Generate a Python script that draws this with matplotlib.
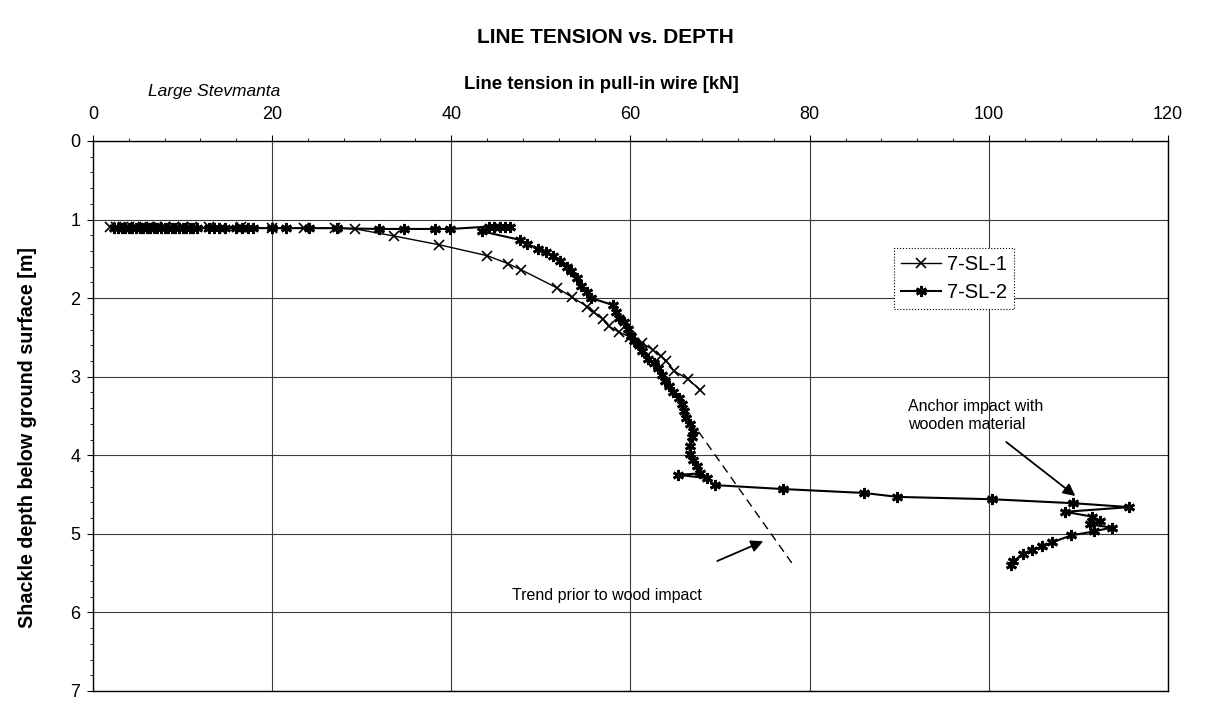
import matplotlib
matplotlib.use('Agg')
import matplotlib.pyplot as plt
from matplotlib.ticker import MultipleLocator

# ---------------- data ----------------
x_ticks = [0, 20, 40, 60, 80, 100, 120]
y_ticks = [0, 1, 2, 3, 4, 5, 6, 7]

series_names = ['7-SL-1', '7-SL-2']

s1_tension = [1.9, 2.6, 3.3, 4.0, 4.8, 5.6, 6.4, 7.2, 8.0, 9.0, 10.0, 11.0, 13.0, 16.5,
              20.0, 23.5, 27.0, 29.3, 33.6, 38.6, 44.0, 46.3, 47.8, 51.8, 53.5, 55.2,
              55.9, 56.9, 57.6, 58.7, 60.0, 61.3, 62.5, 63.4, 64.0, 64.9, 66.4, 67.8]
s1_depth = [1.10, 1.10, 1.10, 1.10, 1.10, 1.10, 1.10, 1.10, 1.10, 1.10, 1.10, 1.10, 1.10, 1.10,
            1.11, 1.11, 1.11, 1.12, 1.21, 1.32, 1.46, 1.56, 1.64, 1.87, 1.99, 2.11,
            2.18, 2.27, 2.36, 2.43, 2.50, 2.57, 2.66, 2.74, 2.80, 2.93, 3.03, 3.17]

s2_tension = [2.4, 2.8, 3.2, 3.6, 4.0, 4.4, 4.8, 5.2, 5.6, 6.0, 6.4, 6.8, 7.2, 7.6, 8.0, 8.4,
              8.8, 9.2, 9.6, 10.0, 10.4, 10.8, 11.2, 11.6, 12.9, 13.5, 14.1, 14.7, 16.0, 16.6,
              17.3, 17.9, 20.0, 21.6, 24.1, 27.2, 31.9, 34.7, 38.2, 39.9, 44.2, 44.8, 45.4,
              46.0, 46.5, 43.4, 47.7, 48.4, 49.7, 50.6, 51.4, 52.1, 52.9, 53.4, 54.0, 54.5,
              55.1, 55.6, 58.1, 58.4, 58.7, 59.3, 59.7, 60.1, 60.4, 60.9, 61.3, 62.0, 62.6,
              63.1, 63.5, 63.9, 64.3, 64.8, 65.4, 65.8, 66.0, 66.2, 66.6, 67.0, 66.9, 66.6,
              66.6, 67.0, 67.4, 67.8, 65.3, 68.5, 69.4, 77.0, 86.1, 89.8, 100.4, 109.4, 115.7,
              108.5, 111.5, 112.4, 111.3, 113.7, 111.7, 109.2, 107.0, 105.9, 104.8, 103.8,
              102.7, 102.5]
s2_depth = [1.11, 1.11, 1.11, 1.11, 1.11, 1.11, 1.11, 1.11, 1.11, 1.11, 1.11, 1.11, 1.11, 1.11,
            1.11, 1.11, 1.11, 1.11, 1.11, 1.11, 1.11, 1.11, 1.11, 1.11, 1.11, 1.11, 1.11, 1.11,
            1.11, 1.11, 1.11, 1.11, 1.11, 1.11, 1.11, 1.11, 1.12, 1.12, 1.12, 1.12, 1.09, 1.09,
            1.09, 1.09, 1.09, 1.15, 1.26, 1.31, 1.37, 1.41, 1.47, 1.53, 1.60, 1.65, 1.75, 1.84,
            1.92, 2.00, 2.09, 2.18, 2.25, 2.31, 2.39, 2.48, 2.54, 2.60, 2.67, 2.77, 2.83,
            2.89, 2.98, 3.06, 3.12, 3.19, 3.27, 3.35, 3.44, 3.52, 3.60, 3.69, 3.77, 3.88,
            3.98, 4.06, 4.14, 4.23, 4.25, 4.29, 4.38, 4.43, 4.48, 4.53, 4.56, 4.61, 4.66,
            4.72, 4.78, 4.84, 4.88, 4.92, 4.97, 5.02, 5.11, 5.16, 5.21, 5.26,
            5.35, 5.40]

trend_tension = [67.6, 78.0]
trend_depth = [3.70, 5.37]

# ---------------- figure ----------------
plt.rcParams['font.family'] = ['Liberation Sans', 'DejaVu Sans']

fig = plt.figure(figsize=(12.06, 7.03), dpi=100)
ax = fig.add_axes([0.0771, 0.0171, 0.8914, 0.7824])

ax.plot(s1_tension, s1_depth, color='k', lw=1.0, marker='x', ms=7, mew=1.2,
        label=series_names[0], zorder=3)
ax.plot(s2_tension, s2_depth, color='k', lw=1.5, marker=(6, 2, 0), ms=8, mew=2.0,
        label=series_names[1], zorder=3)
ax.plot(trend_tension, trend_depth, color='k', lw=1.0, ls=(0, (6, 4)), zorder=2)

ax.set_xlim(0, 120)
ax.set_ylim(7, 0)
ax.xaxis.tick_top()
ax.set_xticks(x_ticks)
ax.set_yticks(y_ticks)
ax.xaxis.set_minor_locator(MultipleLocator(4))
ax.yaxis.set_minor_locator(MultipleLocator(0.2))
ax.grid(True, which='major', color='#3a3a3a', lw=0.8)
ax.tick_params(axis='x', which='major', length=4, labelsize=13, pad=9)
ax.tick_params(axis='y', which='major', length=4, labelsize=13, pad=5)
ax.tick_params(which='minor', length=2.5, width=0.6)
for sp in ax.spines.values():
    sp.set_linewidth(1.0)
    sp.set_color('k')

leg = ax.legend(loc='upper left', bbox_to_anchor=(0.745, 0.806), fontsize=14.5,
                frameon=True, fancybox=False, edgecolor='k', framealpha=1,
                borderpad=0.35, labelspacing=0.45, handlelength=2.0,
                handletextpad=0.3, borderaxespad=0)
leg.get_frame().set_linewidth(0.8)
leg.get_frame().set_linestyle(':')

# annotations
ax.annotate('', xy=(75.1, 5.08), xytext=(69.4, 5.36),
            arrowprops=dict(arrowstyle='-|>', color='k', lw=1.3, mutation_scale=18))
ax.text(46.8, 5.79, 'Trend prior to wood impact', fontsize=11.5, ha='left', va='center')
ax.annotate('', xy=(109.9, 4.54), xytext=(101.7, 3.81),
            arrowprops=dict(arrowstyle='-|>', color='k', lw=1.3, mutation_scale=18))
ax.text(91.0, 3.49, 'Anchor impact with\nwooden material', fontsize=11.5,
        ha='left', va='center', linespacing=1.25)

# titles
fig.text(0.502, 0.946, 'LINE TENSION vs. DEPTH', fontsize=15, fontweight='bold',
         ha='center', va='center')
fig.text(0.499, 0.880, 'Line tension in pull-in wire [kN]', fontsize=13.4, fontweight='bold',
         ha='center', va='center')
fig.text(0.123, 0.870, 'Large Stevmanta', fontsize=12.5, fontstyle='italic',
         ha='left', va='center')
fig.text(0.0232, 0.378, 'Shackle depth below ground surface [m]', fontsize=14.2,
         fontweight='bold', rotation=90, ha='center', va='center')

fig.savefig('out.png', dpi=100)
